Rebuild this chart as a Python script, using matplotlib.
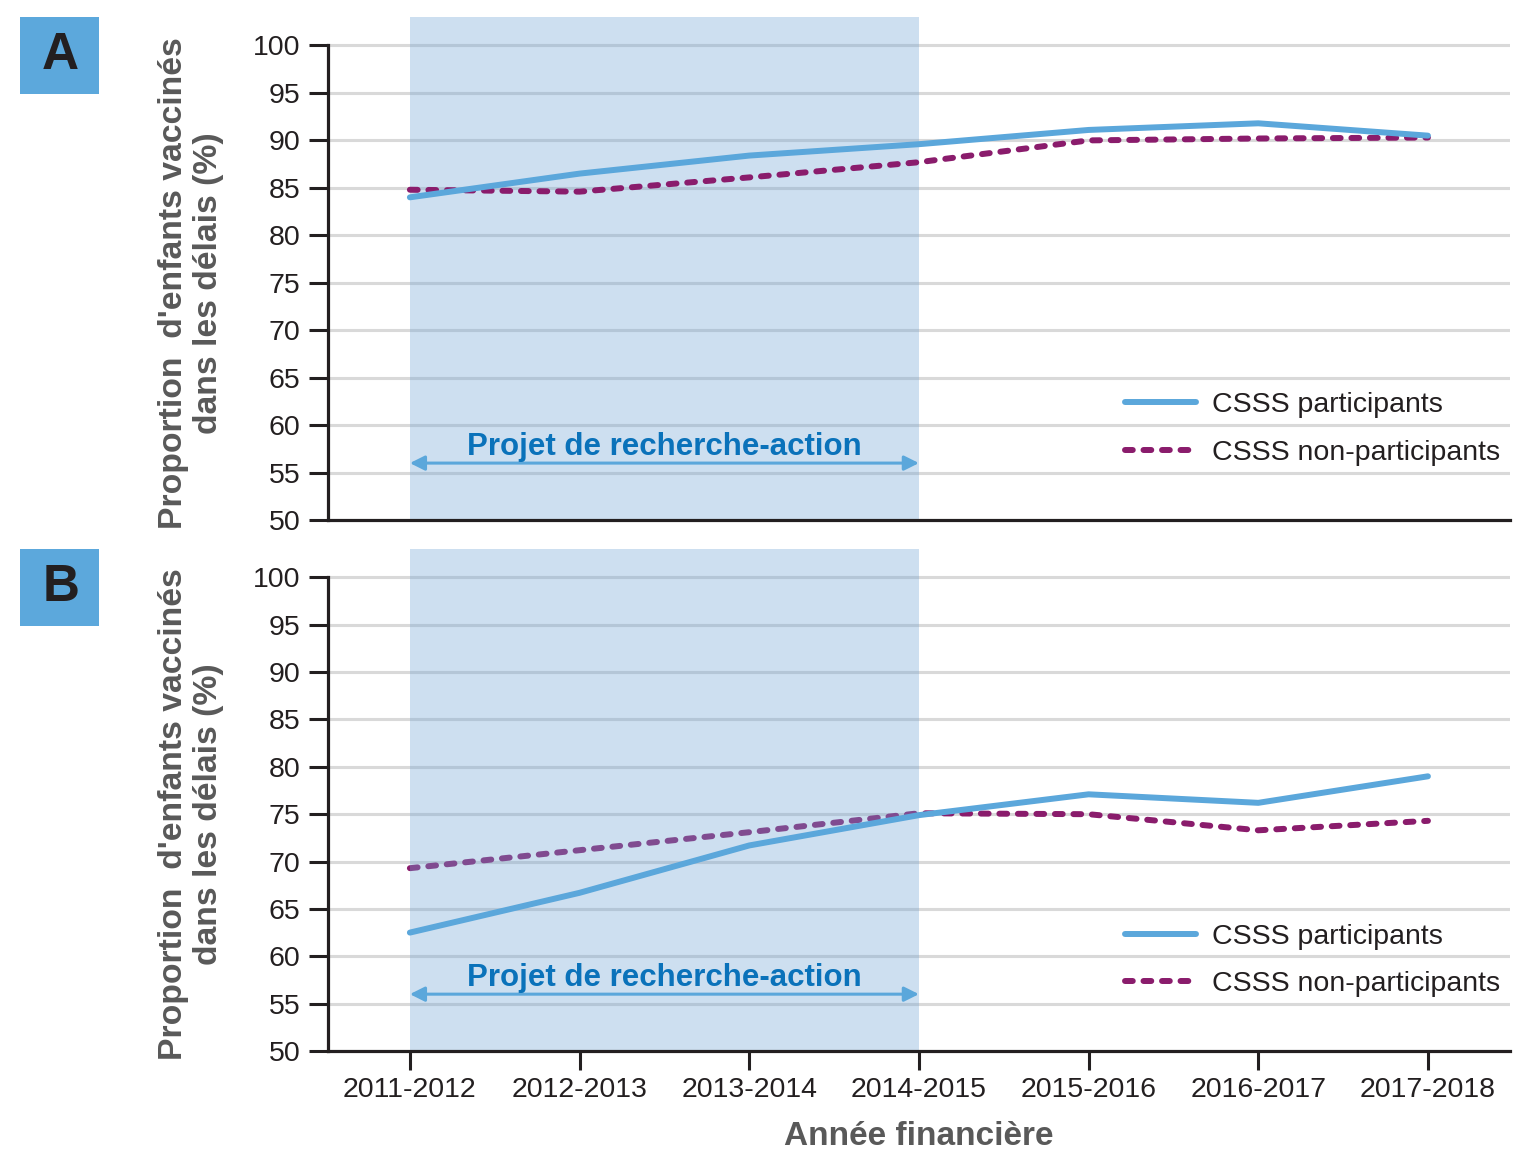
import matplotlib
matplotlib.use("Agg")
import matplotlib.pyplot as plt
from matplotlib.patches import Rectangle

plt.rcParams['font.family'] = ['Liberation Sans', 'DejaVu Sans']

years = ["2011-2012", "2012-2013", "2013-2014", "2014-2015",
         "2015-2016", "2016-2017", "2017-2018"]
a_participants = [84.0, 86.5, 88.4, 89.6, 91.1, 91.8, 90.5]
a_non_participants = [84.8, 84.6, 86.1, 87.7, 90.0, 90.2, 90.3]
b_participants = [62.5, 66.7, 71.7, 74.9, 77.1, 76.2, 79.0]
b_non_participants = [69.3, 71.2, 73.1, 75.1, 75.0, 73.3, 74.3]
yticks = [50, 55, 60, 65, 70, 75, 80, 85, 90, 95, 100]
panel_labels = ["A", "B"]
legend_labels = ["CSSS participants", "CSSS non-participants"]
project_label = "Projet de recherche-action"
ylabel = "Proportion  d'enfants vaccinés\ndans les délais (%)"
xlabel = "Année financière"

BLUE = "#5ba7db"
PURPLE = "#8a1c6c"
SHADE = "#70a4d4"
GRID = "#d9d9d9"
DARK = "#231f20"
GREY = "#595959"

fig = plt.figure(figsize=(15.36, 11.49), dpi=100)
axA = fig.add_axes([0.2135, 0.5474, 0.7695, 0.4378])
axB = fig.add_axes([0.2135, 0.0853, 0.7695, 0.4369])

x = list(range(len(years)))

def style(ax, part, nonpart, shade_over_purple, show_x):
    ax.set_xlim(-0.483, 6.483)
    ax.set_ylim(50, 103)
    for y in yticks[1:]:
        ax.axhline(y, color=GRID, lw=2.2, zorder=0.5)
    ax.axvspan(0, 3, color=SHADE, alpha=0.35, lw=0, zorder=2 if shade_over_purple else 0.8)
    ax.plot(x, nonpart, color=PURPLE, lw=4.3, linestyle=(0, (1.3, 1.8)),
            dash_capstyle='round', solid_capstyle='round', zorder=1.5 if shade_over_purple else 3,
            label=legend_labels[1])
    ax.plot(x, part, color=BLUE, lw=4.3, solid_capstyle='round', zorder=4,
            label=legend_labels[0])
    h, l = ax.get_legend_handles_labels()
    leg = ax.legend([h[1], h[0]], [l[1], l[0]], loc='center left',
                    bbox_to_anchor=(0.674, 0.181), frameon=False, fontsize=20.5,
                    handlelength=2.5, handletextpad=0.57, labelspacing=0.74,
                    borderpad=0, borderaxespad=0)
    for t in leg.get_texts():
        t.set_color(DARK)
    for ln in leg.get_lines():
        ln.set_dash_capstyle('round')
        ln.set_solid_capstyle('round')
    ax.annotate('', xy=(0, 56), xytext=(3, 56),
                arrowprops=dict(arrowstyle='<|-|>', color=BLUE, lw=2.2,
                                mutation_scale=22, shrinkA=0, shrinkB=0), zorder=5)
    ax.text(1.5, 57.7, project_label, ha='center', va='center', fontsize=22.5,
            fontweight='bold', color="#0a72ba", zorder=5)
    for s in ['top', 'right']:
        ax.spines[s].set_visible(False)
    ax.spines['left'].set_bounds(50, 100)
    ax.spines['left'].set_linewidth(2.3)
    ax.spines['bottom'].set_linewidth(2.3)
    ax.spines['left'].set_color(DARK)
    ax.spines['bottom'].set_color(DARK)
    ax.set_yticks(yticks)
    ax.set_yticklabels([str(v) for v in yticks])
    ax.tick_params(axis='y', length=13.7, width=2.2, pad=6, labelsize=20.5,
                   colors=DARK, direction='out')
    if show_x:
        ax.set_xticks(x)
        ax.set_xticklabels(years)
        ax.tick_params(axis='x', length=13.7, width=2.2, pad=5, labelsize=20.5,
                       colors=DARK, direction='out')
        ax.set_xlabel(xlabel, fontsize=24, fontweight='bold', color=GREY, labelpad=13)
    else:
        ax.set_xticks([])
    ax.set_ylabel(ylabel, fontsize=24.3, fontweight='bold', color=GREY,
                  linespacing=1.18)
    ax.yaxis.set_label_coords(-0.088, 0.5 * 50 / 53)

style(axA, a_participants, a_non_participants, False, False)
style(axB, b_participants, b_non_participants, True, True)

for lab, ybot in zip(panel_labels, [0.9182, 0.4552]):
    fig.patches.append(Rectangle((0.013, ybot), 0.0514, 0.067, transform=fig.transFigure,
                                 facecolor="#5ca8dc", edgecolor='none'))
    fig.text(0.013 + 0.0265, ybot + 0.0335, lab, ha='center', va='center',
             fontsize=37, fontweight='bold', color=DARK)

fig.savefig("out.png", dpi=100)
